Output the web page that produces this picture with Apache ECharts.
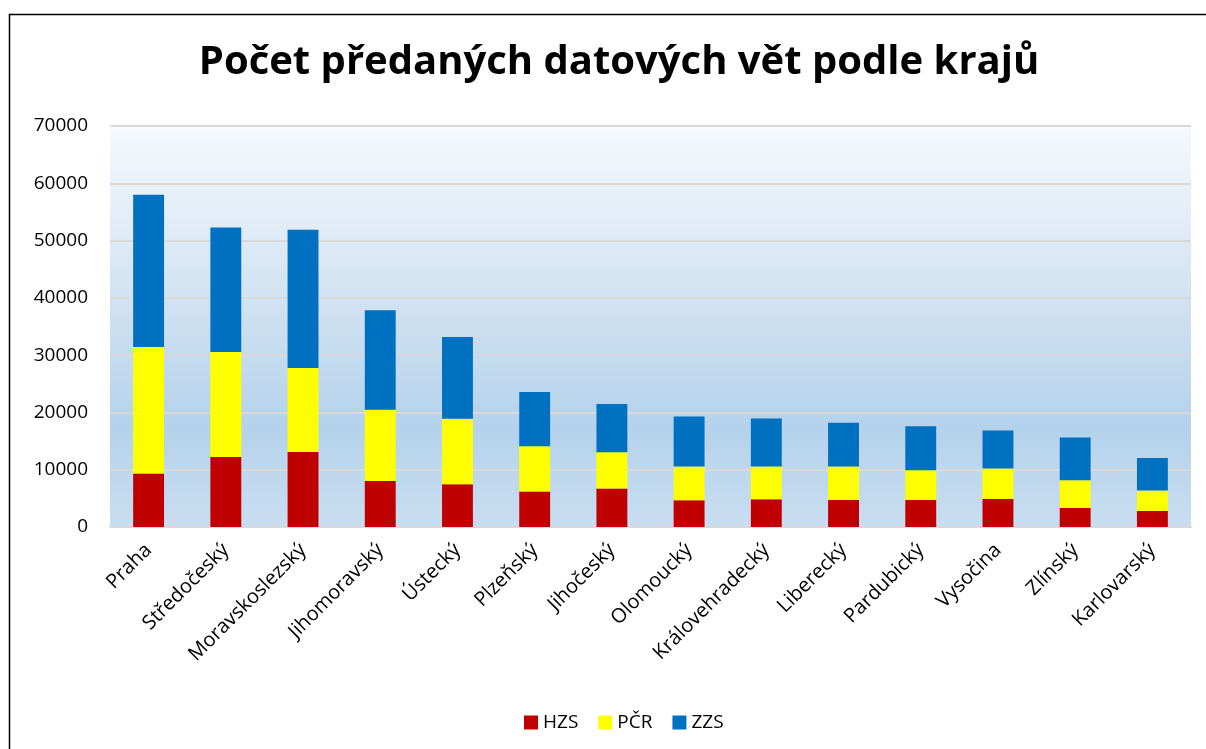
<!DOCTYPE html>
<html>
<head>
<meta charset="utf-8">
<script src="https://cdn.jsdelivr.net/npm/echarts@6/dist/echarts.min.js"></script>
<style>
  html, body { margin: 0; padding: 0; background: #fff; overflow: hidden; }
  #chart { width: 1206px; height: 749px; }
</style>
</head>
<body>
<div id="chart"></div>
<script>
// kraje
var regions = ['Praha', 'Středočeský', 'Moravskoslezský', 'Jihomoravský', 'Ústecký', 'Plzeňský',
  'Jihočeský', 'Olomoucký', 'Královehradecký', 'Liberecký', 'Pardubický', 'Vysočina', 'Zlínský', 'Karlovarský']
var hzs = [9340, 12240, 13110, 8040, 7460, 6190, 6710, 4670, 4840, 4720, 4720, 4900, 3320, 2800]
var pcr = [22060, 18300, 14640, 12410, 11420, 7910, 6350, 5890, 5720, 5840, 5190, 5300, 4840, 3560]
var zzs = [26600, 21730, 24120, 17380, 14280, 9450, 8390, 8740, 8390, 7620, 7690, 6650, 7470, 5700]
var yTicks = [0, 10000, 20000, 30000, 40000, 50000, 60000, 70000]

var font = 'Open Sans'
var chart = echarts.init(document.getElementById('chart'))

function bar(name, data, color) {
  return {
    name: name,
    type: 'bar',
    stack: 'total',
    barWidth: '40%',
    data: data,
    itemStyle: { color: color },
    animation: false
  }
}

chart.setOption({
  title: {
    text: 'Počet předaných datových vět podle krajů',
    left: 614,
    textAlign: 'center',
    top: 38,
    textStyle: { fontFamily: font, fontWeight: 'bold', fontSize: 40, color: '#000' }
  },
  graphic: [{
    type: 'rect',
    shape: { x: 9.5, y: 14.5, width: 1500, height: 900 },
    style: { fill: 'none', stroke: '#000', lineWidth: 1.5 },
    silent: true
  }],
  grid: { left: 110, right: 15, top: 126, bottom: 222, containLabel: false,
    show: true, borderWidth: 0,
    backgroundColor: new echarts.graphic.LinearGradient(0, 0, 0, 1, [
      { offset: 0, color: '#f6f9fd' },
      { offset: 0.4, color: '#d4e4f3' },
      { offset: 0.75, color: '#b4d2eb' },
      { offset: 1, color: '#c9ddf0' }
    ])
  },
  legend: {
    top: 708,
    left: 519,
    itemWidth: 14,
    itemHeight: 14,
    itemGap: 20,
    icon: 'rect',
    textStyle: { fontFamily: font, fontSize: 19, color: '#000' },
    data: ['HZS', 'PČR', 'ZZS']
  },
  xAxis: {
    type: 'category',
    data: regions,
    axisLine: { lineStyle: { color: '#d9d9d9', width: 2 } },
    axisTick: { show: false },
    axisLabel: { rotate: 45, fontFamily: font, fontSize: 20, color: '#000', margin: 20, interval: 0 }
  },
  yAxis: {
    type: 'value',
    min: yTicks[0],
    max: yTicks[yTicks.length - 1],
    interval: 10000,
    axisLine: { show: false },
    axisTick: { show: false },
    axisLabel: { fontFamily: font, fontSize: 19, color: '#000', margin: 22,
      formatter: function (v) { return String(v) } },
    splitLine: { lineStyle: { color: '#d9d9d9', width: 2 } }
  },
  series: [
    bar('HZS', hzs, '#c00000'),
    bar('PČR', pcr, '#ffff00'),
    bar('ZZS', zzs, '#0070c0')
  ]
})
</script>
</body>
</html>
